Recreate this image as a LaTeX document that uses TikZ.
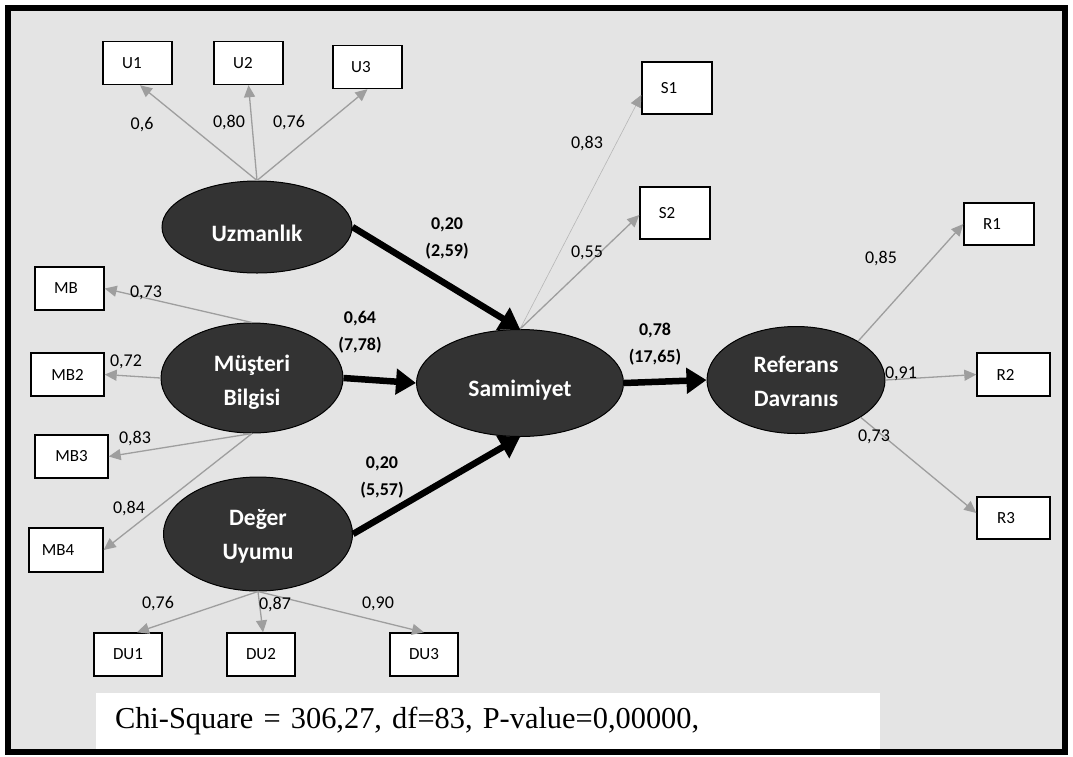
\documentclass[tikz,border=0pt]{standalone}
\usepackage{fontspec}
\setmainfont{Carlito}
\newfontfamily\chifont{Liberation Serif}
\usetikzlibrary{arrows.meta,shapes.geometric}

\definecolor{panel}{RGB}{228,228,228}
\definecolor{latentfill}{RGB}{51,51,51}
\definecolor{loadgray}{RGB}{158,158,158}
\definecolor{faintgray}{RGB}{182,182,182}

% lower a label inside its ellipse without changing the box the node sees
\newcommand\lowered[2]{\raisebox{-#1}[\height][\depth]{#2}}
% two centred lines for a latent variable name
\newcommand\twolines[2]{\begin{tabular}{@{}c@{}}#1\\#2\end{tabular}}
% pull a box label off centre (argument is twice the shift)
\newcommand\nudge[2]{\hspace*{#1}#2}

\begin{document}
\begin{tikzpicture}[x=1pt,y=-1pt,
  latent/.style={ellipse,draw=black,line width=1pt,fill=latentfill,text=white,
    inner sep=0pt,font=\fontsize{23.5}{34}\selectfont\bfseries},
  obs/.style={rectangle,draw=black,line width=1.4pt,fill=white,inner sep=0pt,
    minimum width=69pt,minimum height=43pt,font=\fontsize{17}{20}\selectfont},
  load/.style={draw=loadgray,line width=1.3pt,
    -{Triangle[length=12pt,width=11pt]}},
  faint/.style={draw=faintgray,line width=0.6pt,
    -{Triangle[length=12pt,width=11pt,color=loadgray]}},
  effect/.style={draw=black,line width=6.5pt,
    -{Triangle[length=20pt,width=25pt]}},
  coef/.style={font=\fontsize{18}{27}\selectfont\bfseries,align=center,inner sep=0pt},
  ldg/.style={font=\fontsize{18}{20}\selectfont,inner sep=0pt},
  chibox/.style={rectangle,fill=white,inner sep=0pt,minimum width=784pt,
    minimum height=56pt,text width=746pt,align=left,
    font=\chifont\fontsize{30.4}{36}\selectfont},
]
\useasboundingbox (0,0) rectangle (1073,756);
\fill[white] (0,0) rectangle (1073,756);
\fill[panel] (8,8) rectangle (1065,752);

% fit statistics
\node[chibox] (chi) at (488,721) {Chi-Square = 306,27, df=83, P-value=0,00000,};

% frame
\draw[line width=6pt] (8,8) rectangle (1065,752);

% latent variables
\node[latent,minimum width=190pt,minimum height=92pt] (uz) at (257,227) {\lowered{6pt}{Uzmanlık}};
\node[latent,minimum width=182pt,minimum height=110pt] (mb) at (252,378) {\lowered{4pt}{\twolines{Müşteri}{Bilgisi}}};
\node[latent,minimum width=189pt,minimum height=114pt] (du) at (258,534) {\lowered{2pt}{\twolines{Değer}{Uyumu}}};
\node[latent,minimum width=207pt,minimum height=107pt] (sam) at (520,383) {\lowered{7pt}{Samimiyet}};
\node[latent,minimum width=178pt,minimum height=107pt] (ref) at (796,380) {\lowered{3pt}{\twolines{Referans}{Davranıs}}};

% indicators
\node[obs] (u1) at (137.5,63) {\nudge{-11pt}{U1}};
\node[obs] (u2) at (248.5,63) {\nudge{-11pt}{U2}};
\node[obs] (u3) at (367.5,67) {\nudge{-13pt}{U3}};
\node[obs,minimum width=70pt,minimum height=52pt] (s1) at (677,88) {\nudge{-16pt}{S1}};
\node[obs,minimum width=70pt,minimum height=52pt] (s2) at (675,213) {\nudge{-16pt}{S2}};
\node[obs,minimum width=70pt,minimum height=42pt] (r1) at (999,224) {\nudge{-14pt}{R1}};
\node[obs,minimum width=73pt] (r2) at (1013.5,374.5) {\nudge{-16pt}{R2}};
\node[obs,minimum width=73pt,minimum height=42pt] (r3) at (1013.5,518) {\nudge{-15pt}{R3}};
\node[obs] (mb1) at (69.5,288.5) {\nudge{-7pt}{MB}};
\node[obs,minimum width=73pt] (mb2) at (67.5,374.5) {MB2};
\node[obs,minimum width=73pt] (mb3) at (71.5,456.5) {MB3};
\node[obs,minimum width=74pt,minimum height=44pt] (mb4) at (66,550) {\nudge{-16pt}{MB4}};
\node[obs,minimum width=68pt] (du1) at (128,654.5) {DU1};
\node[obs,minimum width=68pt] (du2) at (261,654.5) {DU2};
\node[obs,minimum width=68pt] (du3) at (424,654.5) {DU3};

% loadings
\draw[load] (uz.north) -- ([xshift=2.5pt]u1.south);
\draw[load] (uz.north) -- (u2.south);
\draw[load] (uz.north) -- (u3.south);
\draw[faint] (sam.north) -- ([yshift=-7pt]s1.west);
\draw[load] (sam.north) -- ([yshift=-2pt]s2.west);
\draw[load] (ref.32) -- (r1.west);
\draw[load] (ref.east) -- (r2.west);
\draw[load] (ref.-30) -- ([yshift=5pt]r3.west);
\draw[load] (mb.north) -- (mb1.east);
\draw[load] (mb.west) -- (mb2.east);
\draw[load] (mb.south) -- (mb3.east);
\draw[load] (mb.south) -- (mb4.east);
\draw[load] (du.south) -- ([xshift=9pt]du1.north);
\draw[load] (du.south) -- ([xshift=2pt]du2.north);
\draw[load] (du.south) -- (du3.north);

% structural paths
\draw[effect] (uz.east) -- (sam.north);
\draw[effect] (mb.east) -- (sam.west);
\draw[effect] (du.east) -- (sam.south);
\draw[effect] (sam.east) -- (ref.west);

% path coefficients (t values)
\node[coef] (c1) at (447,238) {0,20\\(2,59)};
\node[coef] (c2) at (360,332) {0,64\\(7,78)};
\node[coef] (c3) at (382,477) {0,20\\(5,57)};
\node[coef] (c4) at (655,344) {0,78\\(17,65)};

% loading values
\node[ldg] (l1) at (142,125) {0,6};
\node[ldg] (l2) at (229,122) {0,80};
\node[ldg] (l3) at (289,123) {0,76};
\node[ldg] (l4) at (587,143) {0,83};
\node[ldg] (l5) at (587,253) {0,55};
\node[ldg] (l6) at (881,258) {0,85};
\node[ldg] (l7) at (901,374) {0,91};
\node[ldg] (l8) at (874,437) {0,73};
\node[ldg] (l9) at (146,293) {0,73};
\node[ldg] (l10) at (126,362) {0,72};
\node[ldg] (l11) at (135,438) {0,83};
\node[ldg] (l12) at (129,508) {0,84};
\node[ldg] (l13) at (158,604) {0,76};
\node[ldg] (l14) at (275,604) {0,87};
\node[ldg] (l15) at (378,604) {0,90};
\end{tikzpicture}
\end{document}
